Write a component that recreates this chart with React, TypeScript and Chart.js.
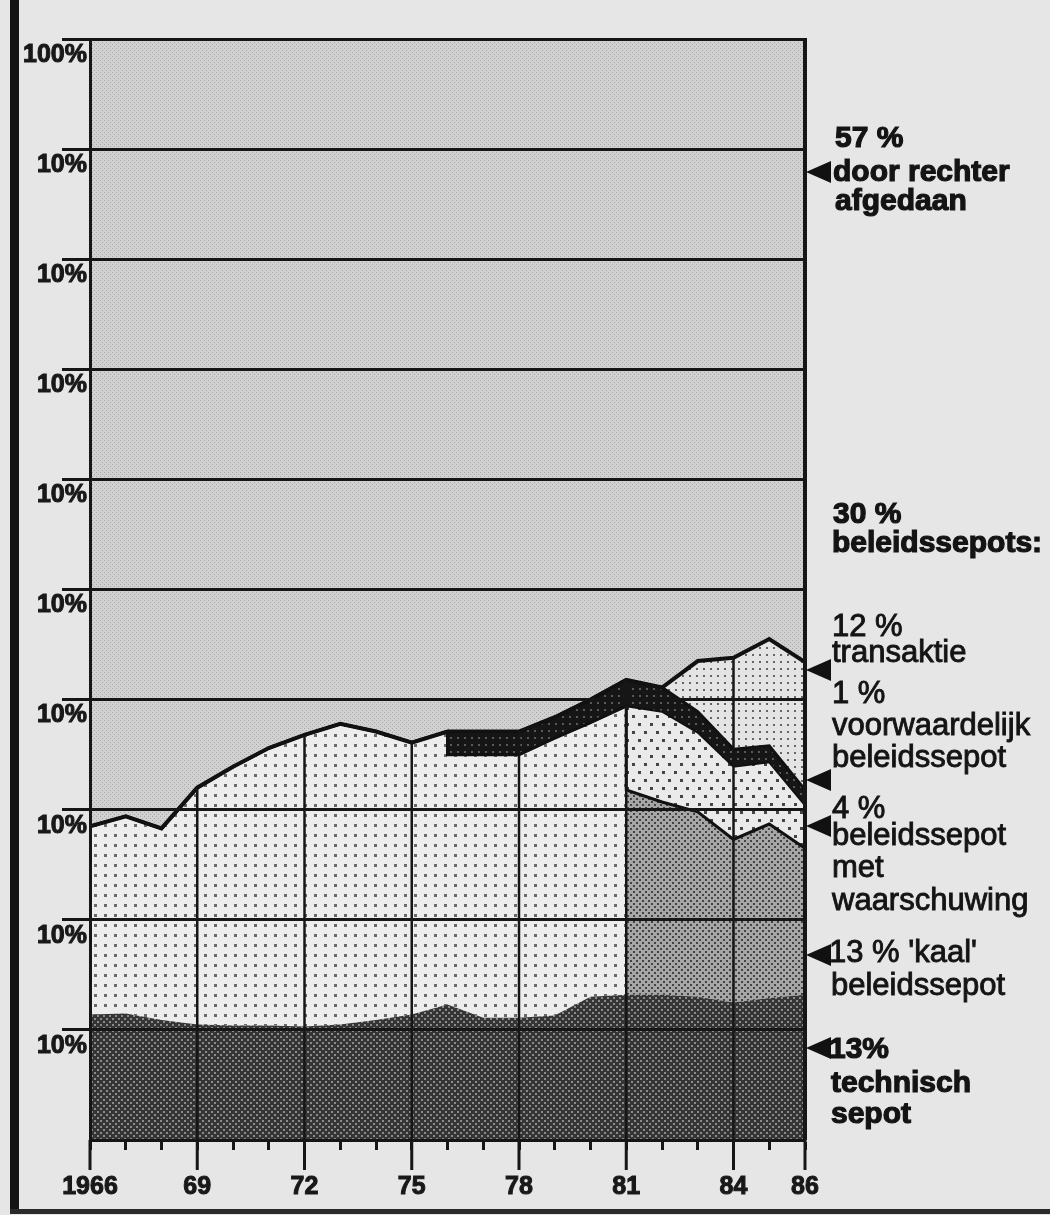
import React, { useEffect, useRef } from 'react';
import { Chart, registerables } from 'chart.js';

Chart.register(...registerables);

// Jaren (dubbele jaartallen markeren een verticale overgang in de indeling)
const years = [1966, 1967, 1968, 1969, 1970, 1971, 1972, 1973, 1974, 1975, 1976, 1976, 1977, 1978, 1979, 1980, 1981, 1981, 1982, 1983, 1984, 1985, 1986];

// Aandelen in procenten (van onder naar boven gestapeld)
const technischSepot = [11.4, 11.5, 10.9, 10.5, 10.4, 10.4, 10.3, 10.5, 10.9, 11.4, 12.3, 12.3, 11.1, 11.1, 11.3, 13.0, 13.2, 13.2, 13.2, 13.0, 12.5, 12.9, 13.2];
const beleidssepotOnverdeeld = [17.1, 17.9, 17.4, 21.5, 23.5, 25.2, 26.5, 27.3, 26.2, 24.7, 24.8, 22.7, 23.9, 23.9, 25.2, 24.9, 26.2, 0, 0, 0, 0, 0, 0];
const kaalBeleidssepot = [0, 0, 0, 0, 0, 0, 0, 0, 0, 0, 0, 0, 0, 0, 0, 0, 0, 18.6, 17.5, 16.8, 14.8, 15.8, 13.3];
const metWaarschuwing = [0, 0, 0, 0, 0, 0, 0, 0, 0, 0, 0, 0, 0, 0, 0, 0, 0, 7.6, 8.2, 7.2, 6.6, 5.6, 3.9];
const voorwaardelijk = [0, 0, 0, 0, 0, 0, 0, 0, 0, 0, 0, 2.1, 2.1, 2.1, 1.9, 2.1, 2.4, 2.4, 2.2, 1.9, 1.6, 1.5, 1.4];
const transaktie = [0, 0, 0, 0, 0, 0, 0, 0, 0, 0, 0, 0, 0, 0, 0, 0, 0, 0, 0, 4.6, 8.3, 9.7, 11.6];
const doorRechter = [71.5, 70.6, 71.7, 68.0, 66.1, 64.4, 63.2, 62.2, 62.9, 63.9, 62.9, 62.9, 62.9, 62.9, 61.6, 60.0, 58.2, 58.2, 58.9, 56.5, 56.2, 54.5, 56.6];

const labelledYears = [1966, 1969, 1972, 1975, 1978, 1981, 1984, 1986];
const innerLineYears = [1969, 1972, 1975, 1978, 1981, 1984];

const notes = [
  { text: '57 %', x: 835, y: 147, bold: true },
  { text: 'door rechter', x: 833, y: 181, bold: true },
  { text: 'afgedaan', x: 835, y: 210, bold: true },
  { text: '30 %', x: 833, y: 523, bold: true },
  { text: 'beleidssepots:', x: 832, y: 552, bold: true },
  { text: '12 %', x: 832, y: 636, bold: false },
  { text: 'transaktie', x: 832, y: 662, bold: false },
  { text: '1 %', x: 832, y: 703, bold: false },
  { text: 'voorwaardelijk', x: 832, y: 735, bold: false },
  { text: 'beleidssepot', x: 832, y: 767, bold: false },
  { text: '4 %', x: 832, y: 818, bold: false },
  { text: 'beleidssepot', x: 832, y: 845, bold: false },
  { text: 'met', x: 832, y: 877, bold: false },
  { text: 'waarschuwing', x: 832, y: 910, bold: false },
  { text: "13 % 'kaal'", x: 829, y: 962, bold: false },
  { text: 'beleidssepot', x: 831, y: 995, bold: false },
  { text: '13%', x: 829, y: 1058, bold: true },
  { text: 'technisch', x: 831, y: 1092, bold: true },
  { text: 'sepot', x: 831, y: 1123, bold: true },
];
const arrowYs = [172, 670, 780, 826, 955, 1048];

const FONT = '"Liberation Sans", Arial, Helvetica, sans-serif';

function makePattern(w: number, h: number, bg: string, dots: [number, number, number, number, string][]) {
  const c = document.createElement('canvas');
  c.width = w;
  c.height = h;
  const g = c.getContext('2d')!;
  g.fillStyle = bg;
  g.fillRect(0, 0, w, h);
  for (const [x, y, dw, dh, col] of dots) {
    g.fillStyle = col;
    g.fillRect(x, y, dw, dh);
  }
  return g.createPattern(c, 'repeat')!;
}

export default function App() {
  const ref = useRef<HTMLCanvasElement>(null);

  useEffect(() => {
    const canvas = ref.current!;
    const pRechter = makePattern(4, 4, '#d1d1d1', [[0, 0, 1, 1, '#a8a8a8'], [2, 2, 1, 1, '#a8a8a8']]);
    const pBeleid = makePattern(10, 10, '#ededed', [[4, 4, 3, 3, '#6a6a6a']]);
    const pTrans = makePattern(7, 7, '#e4e4e4', [[3, 3, 2, 2, '#666']]);
    const pWaarsch = makePattern(12, 16, '#eaeaea', [[2, 3, 3, 3, '#444'], [8, 11, 3, 3, '#444']]);
    const pKaal = makePattern(6, 6, '#a6a6a6', [[0, 0, 2, 2, '#444'], [3, 3, 2, 2, '#444']]);
    const pTech = makePattern(6, 6, '#353535', [[1, 1, 2, 2, '#8a8a8a'], [4, 4, 2, 2, '#8a8a8a']]);
    const pVoorw = makePattern(7, 7, '#161616', [[2, 2, 2, 2, '#5a5a5a']]);

    const layers = [
      { label: 'technisch sepot', values: technischSepot, bg: pTech, bw: 0 },
      { label: 'beleidssepot', values: beleidssepotOnverdeeld, bg: pBeleid, bw: 0 },
      { label: "'kaal' beleidssepot", values: kaalBeleidssepot, bg: pKaal, bw: 3 },
      { label: 'beleidssepot met waarschuwing', values: metWaarschuwing, bg: pWaarsch, bw: 2 },
      { label: 'voorwaardelijk beleidssepot', values: voorwaardelijk, bg: pVoorw, bw: 3 },
      { label: 'transaktie', values: transaktie, bg: pTrans, bw: 4 },
      { label: 'door rechter afgedaan', values: doorRechter, bg: pRechter, bw: 0 },
    ];

    const running = years.map(() => 0);
    const cumulative: number[][] = [];
    const datasets = layers.map((layer, li) => {
      const pts = years.map((x, i) => {
        running[i] += layer.values[i];
        return { x, y: running[i] };
      });
      cumulative.push(pts.map((p) => p.y));
      return {
        label: layer.label,
        data: pts,
        fill: li === 0 ? 'origin' : '-1',
        backgroundColor: layer.bg,
        borderColor: '#111',
        borderWidth: layer.bw,
        pointRadius: 0,
        tension: 0,
      };
    });

    // Top of the stack below "door rechter afgedaan"
    const stackTop = cumulative[5];

    const decorPlugin = {
      id: 'decor',
      afterDatasetsDraw(chart: any) {
        const { ctx, chartArea, scales } = chart;
        const xs = scales.x;
        const ys = scales.y;
        ctx.save();
        ctx.strokeStyle = '#161616';
        ctx.lineWidth = 2.5;
        for (const yr of innerLineYears) {
          let idx = -1;
          years.forEach((y, i) => { if (y === yr) idx = i; });
          const px = xs.getPixelForValue(yr);
          ctx.beginPath();
          ctx.moveTo(px, ys.getPixelForValue(stackTop[idx]));
          ctx.lineTo(px, chartArea.bottom);
          ctx.stroke();
        }
        ctx.restore();
      },
      afterDraw(chart: any) {
        const { ctx, chartArea, scales } = chart;
        const xs = scales.x;
        ctx.save();
        // long ticks at labelled years
        ctx.strokeStyle = '#161616';
        ctx.lineWidth = 3;
        for (const yr of labelledYears) {
          const px = xs.getPixelForValue(yr);
          ctx.beginPath();
          ctx.moveTo(px, chartArea.bottom);
          ctx.lineTo(px, chartArea.bottom + 30);
          ctx.stroke();
        }
        // right frame
        const rx = xs.getPixelForValue(1986);
        ctx.lineWidth = 4;
        ctx.beginPath();
        ctx.moveTo(rx, chartArea.top - 1);
        ctx.lineTo(rx, chartArea.bottom);
        ctx.stroke();
        // arrows
        ctx.fillStyle = '#111';
        for (const ay of arrowYs) {
          ctx.beginPath();
          ctx.moveTo(rx + 1, ay);
          ctx.lineTo(rx + 26, ay - 11);
          ctx.lineTo(rx + 26, ay + 11);
          ctx.closePath();
          ctx.fill();
        }
        // annotation texts
        ctx.textBaseline = 'alphabetic';
        ctx.textAlign = 'left';
        for (const n of notes) {
          ctx.font = n.bold ? `bold 30px ${FONT}` : `31px ${FONT}`;
          ctx.fillStyle = '#141414';
          ctx.fillText(n.text, n.x, n.y);
          ctx.strokeStyle = '#141414';
          ctx.lineWidth = n.bold ? 1.2 : 0.9;
          ctx.strokeText(n.text, n.x, n.y);
        }
        ctx.restore();
      },
    };

    const chart = new Chart(canvas, {
      type: 'line',
      data: { datasets: datasets as any },
      plugins: [decorPlugin],
      options: {
        responsive: false,
        animation: false,
        devicePixelRatio: 1,
        events: [],
        layout: { padding: { left: 0, right: 245, top: 39, bottom: 0 } },
        plugins: {
          legend: { display: false },
          tooltip: { enabled: false },
          filler: { drawTime: 'beforeDatasetsDraw' },
        } as any,
        scales: {
          x: {
            type: 'linear',
            min: 1966,
            max: 1986,
            position: 'bottom',
            ticks: {
              z: 1,
              stepSize: 1,
              autoSkip: false,
              maxRotation: 0,
              padding: 22,
              color: '#181818',
              textStrokeColor: '#181818',
              textStrokeWidth: 1,
              font: { family: FONT, size: 25, weight: 'bold' },
              callback: (v: any) => {
                const yr = Math.round(Number(v));
                if (!labelledYears.includes(yr)) return '';
                return yr === 1966 ? '1966' : String(yr).slice(2);
              },
            },
            grid: { z: 1, display: true, drawOnChartArea: false, drawTicks: true, tickLength: 10, tickWidth: 3, tickColor: '#161616' },
            border: { z: 1, display: true, color: '#161616', width: 3 },
            afterFit: (s: any) => { s.height = 75; },
          },
          y: {
            type: 'linear',
            min: 0,
            max: 100,
            position: 'left',
            ticks: {
              z: 1,
              stepSize: 10,
              padding: -25,
              labelOffset: 16,
              color: '#181818',
              textStrokeColor: '#181818',
              textStrokeWidth: 1,
              font: { family: FONT, size: 25, weight: 'bold' },
              callback: (v: any) => (Number(v) === 0 ? '' : Number(v) === 100 ? '100%' : '10%'),
            },
            grid: {
              z: 1,
              color: '#161616',
              lineWidth: 3,
              tickLength: 28,
              tickColor: (c: any) => (c.tick && c.tick.value === 0 ? 'rgba(0,0,0,0)' : '#161616'),
            },
            border: { z: 1, display: true, color: '#161616', width: 3 },
            afterFit: (s: any) => { s.width = 90; },
          },
        },
      } as any,
    });
    return () => chart.destroy();
  }, []);

  return (
    <div style={{ position: 'absolute', left: 0, top: 0, width: 1050, height: 1215, background: '#e6e6e6', overflow: 'hidden' }}>
      <div style={{ position: 'absolute', left: 10, top: 0, width: 9, height: 1212, background: '#141414' }} />
      <div style={{ position: 'absolute', left: 10, top: 1209, width: 1040, height: 5, background: '#2a2a2a' }} />
      <canvas ref={ref} width={1050} height={1215} style={{ position: 'absolute', left: 0, top: 0, width: 1050, height: 1215 }} />
    </div>
  );
}
